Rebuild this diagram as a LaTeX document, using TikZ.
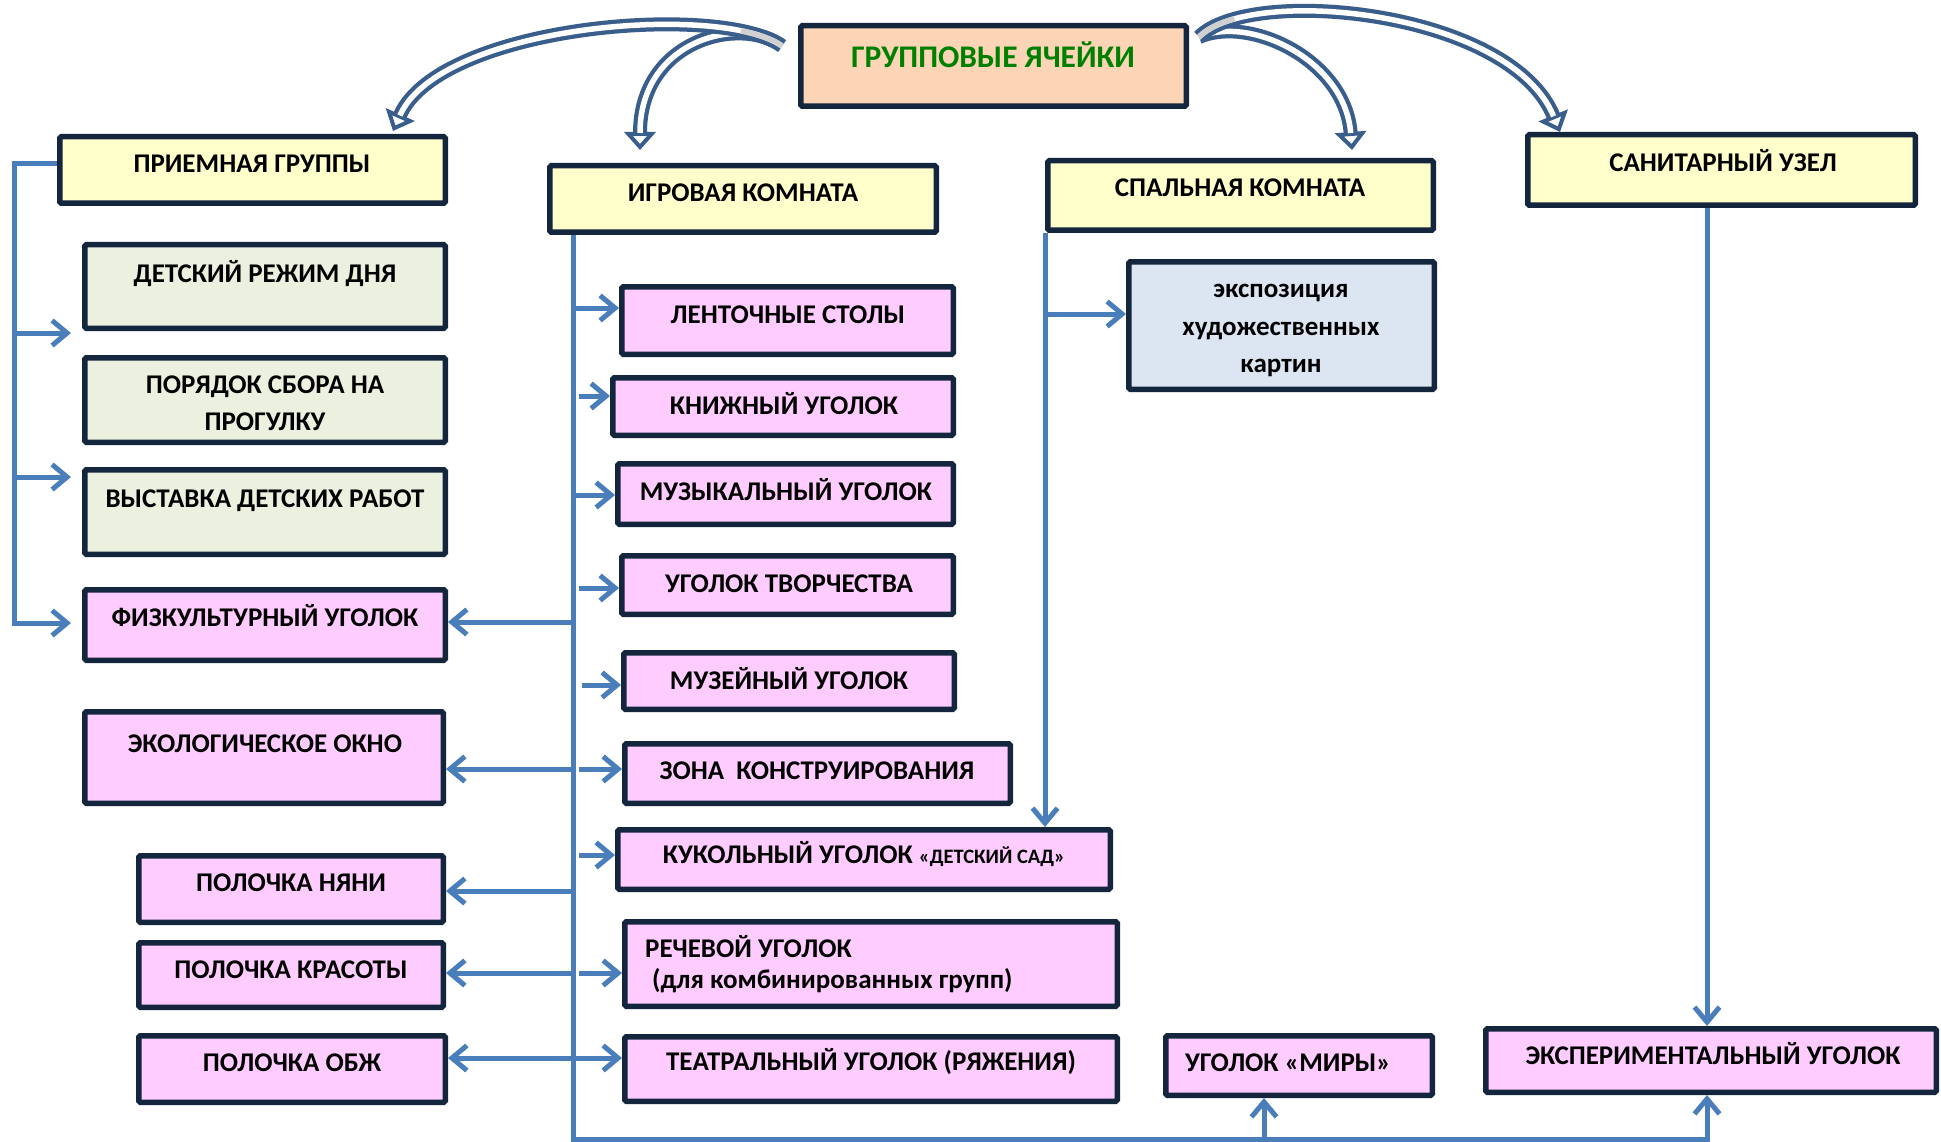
\documentclass[tikz,border=0pt]{standalone}
\usepackage{fontspec}
\setmainfont{Carlito}
\usetikzlibrary{arrows.meta,fit}
\definecolor{bordc}{HTML}{14263E}
\definecolor{yelf}{HTML}{FFFFCC}
\definecolor{grnf}{HTML}{EBF1DE}
\definecolor{pinkf}{HTML}{FFCCFF}
\definecolor{peachf}{HTML}{FBD5B5}
\definecolor{bluef}{HTML}{DCE6F2}
\definecolor{cblue}{HTML}{4A7EBB}
\definecolor{ribblue}{HTML}{3A5E8C}
\definecolor{ribgrey}{HTML}{D0D0D0}
\definecolor{titlegreen}{HTML}{008000}
\begin{document}
\begin{tikzpicture}[x=1pt, y=-1pt,
  box/.style={draw=bordc, line width=5.5pt, inner sep=-2.75pt, rounded corners=1.5pt},
  lbl/.style={font=\fontsize{27}{32}\selectfont\bfseries, anchor=base, inner sep=0pt},
  conn/.style={draw=cblue, line width=5pt},
  >={Straight Barb[length=15pt,width=25pt,line width=5pt]},
  rib/.style={draw=ribblue, line width=14pt, -{Triangle[fill=white,length=18pt,width=31pt,line width=4pt]}},
  ribin/.style={draw=white, line width=5.5pt, shorten >=17pt},
  ribfold/.style={draw=ribgrey, line width=5.5pt}
]
\fill[white] (0,0) rectangle (1941,1142);
\useasboundingbox (0,0) rectangle (1941,1142);

% ---------- boxes ----------
\node[box, fill=peachf, fit={(798,23) (1189,109)}] (grup) {};
\node[lbl, font=\fontsize{31.5}{36}\selectfont\bfseries, text=titlegreen] (grupT) at (993,68) {ГРУППОВЫЕ ЯЧЕЙКИ};

\node[box, fill=yelf, fit={(57,134) (448,206)}] (priem) {};
\node[lbl] (priemT) at (252,173) {ПРИЕМНАЯ ГРУППЫ};
\node[box, fill=yelf, fit={(547,163) (939,235)}] (igr) {};
\node[lbl] (igrT) at (743,202) {ИГРОВАЯ КОМНАТА};
\node[box, fill=yelf, fit={(1045,158) (1436,233)}] (spal) {};
\node[lbl] (spalT) at (1240,197) {СПАЛЬНАЯ КОМНАТА};
\node[box, fill=yelf, fit={(1525,132) (1918,208)}] (sanit) {};
\node[lbl] (sanitT) at (1723,172) {САНИТАРНЫЙ УЗЕЛ};

\node[box, fill=grnf, fit={(82,242) (448,331)}] (detsk) {};
\node[lbl] (detskT) at (265,282) {ДЕТСКИЙ РЕЖИМ ДНЯ};
\node[box, fill=grnf, fit={(82,355) (448,445)}] (poryad) {};
\node[lbl] (poryadT) at (265,393) {ПОРЯДОК СБОРА НА};
\node[lbl] (poryadTb) at (265,430) {ПРОГУЛКУ};
\node[box, fill=grnf, fit={(82,467) (448,557)}] (vyst) {};
\node[lbl] (vystT) at (265,507) {ВЫСТАВКА ДЕТСКИХ РАБОТ};
\node[box, fill=pinkf, fit={(82,587) (448,663)}] (fiz) {};
\node[lbl] (fizT) at (265,626) {ФИЗКУЛЬТУРНЫЙ УГОЛОК};
\node[box, fill=pinkf, fit={(82,709) (446,806)}] (ekol) {};
\node[lbl] (ekolT) at (265,752) {ЭКОЛОГИЧЕСКОЕ ОКНО};
\node[box, fill=pinkf, fit={(136,853) (446,925)}] (nyan) {};
\node[lbl] (nyanT) at (291,891) {ПОЛОЧКА НЯНИ};
\node[box, fill=pinkf, fit={(136,940) (446,1010)}] (kras) {};
\node[lbl] (krasT) at (291,978) {ПОЛОЧКА КРАСОТЫ};
\node[box, fill=pinkf, fit={(136,1033) (448,1105)}] (obzh) {};
\node[lbl] (obzhT) at (292,1071) {ПОЛОЧКА ОБЖ};

\node[box, fill=pinkf, fit={(619,284) (956,357)}] (lent) {};
\node[lbl] (lentT) at (788,323) {ЛЕНТОЧНЫЕ СТОЛЫ};
\node[box, fill=pinkf, fit={(610,375) (956,438)}] (knizh) {};
\node[lbl] (knizhT) at (784,414) {КНИЖНЫЙ УГОЛОК};
\node[box, fill=pinkf, fit={(615,461) (956,527)}] (muz) {};
\node[lbl] (muzT) at (786,500) {МУЗЫКАЛЬНЫЙ УГОЛОК};
\node[box, fill=pinkf, fit={(619,553) (956,617)}] (tvor) {};
\node[lbl] (tvorT) at (789,592) {УГОЛОК ТВОРЧЕСТВА};
\node[box, fill=pinkf, fit={(621,650) (957,712)}] (muzei) {};
\node[lbl] (muzeiT) at (789,689) {МУЗЕЙНЫЙ УГОЛОК};
\node[box, fill=pinkf, fit={(622,741) (1013,806)}] (zona) {};
\node[lbl] (zonaT) at (817,779) {ЗОНА\ \ КОНСТРУИРОВАНИЯ};
\node[box, fill=pinkf, fit={(615,827) (1113,892)}] (kukol) {};
\node[lbl] (kukolT) at (864,863) {КУКОЛЬНЫЙ УГОЛОК {\fontsize{20.5}{24}\selectfont «ДЕТСКИЙ САД»}};
\node[box, fill=pinkf, fit={(622,919) (1120,1009)}] (rech) {};
\node[lbl, anchor=base west] (rechT) at (645,957) {РЕЧЕВОЙ УГОЛОК};
\node[lbl, anchor=base west] (rechTb) at (652,988) {(для комбинированных групп)};
\node[box, fill=pinkf, fit={(622,1034) (1120,1104)}] (teatr) {};
\node[lbl] (teatrT) at (871,1070) {ТЕАТРАЛЬНЫЙ УГОЛОК (РЯЖЕНИЯ)};

\node[box, fill=bluef, fit={(1126,259) (1437,392)}] (ekspo) {};
\node[lbl] (ekspoT) at (1281,297) {экспозиция};
\node[lbl] (ekspoTb) at (1281,335) {художественных};
\node[lbl] (ekspoTc) at (1281,372) {картин};

\node[box, fill=pinkf, fit={(1163,1033) (1435,1098)}] (miry) {};
\node[lbl] (miryT) at (1288,1071) {УГОЛОК «МИРЫ»};
\node[box, fill=pinkf, fit={(1483,1026) (1939,1095)}] (exper) {};
\node[lbl] (experT) at (1713,1064) {ЭКСПЕРИМЕНТАЛЬНЫЙ УГОЛОК};

% ---------- left bracket (приемная) ----------
\coordinate (pL) at (14,164);
\coordinate (pB) at (14,623);
\coordinate (b1) at (14,333);
\coordinate (b1e) at (71,333);
\coordinate (b2) at (14,477);
\coordinate (b2e) at (71,477);
\coordinate (b3e) at (71,623);
\draw[conn,->] (priem.west |- pL) -- (pL) -- (pB) -- (b3e);
\draw[conn,->] (b1) -- (b1e);
\draw[conn,->] (b2) -- (b2e);

% ---------- игровая spine ----------
\coordinate (gT) at (573,235);
\coordinate (gS) at (573,1139);
\coordinate (gE) at (1705,1139);
\draw[conn] (gT) -- (gS) -- (gE);
\coordinate (s1) at (573,308);
\coordinate (s2) at (579,396);
\coordinate (s3) at (573,495);
\coordinate (s4) at (579,588);
\coordinate (s5) at (573,622);
\coordinate (s6) at (582,685);
\coordinate (s7) at (573,769);
\coordinate (s7b) at (579,769);
\coordinate (s8) at (579,855);
\coordinate (s9) at (573,891);
\coordinate (s10) at (573,973);
\coordinate (s10b) at (579,973);
\coordinate (s11) at (573,1058);
\draw[conn,->] (s1) -- (lent.west |- s1);
\draw[conn,->] (s2) -- (knizh.west |- s2);
\draw[conn,->] (s3) -- (muz.west |- s3);
\draw[conn,->] (s4) -- (tvor.west |- s4);
\draw[conn,->] (s5) -- (fiz.east |- s5);
\draw[conn,->] (s6) -- (muzei.west |- s6);
\draw[conn,->] (s7) -- (ekol.east |- s7);
\draw[conn,->] (s7b) -- (zona.west |- s7b);
\draw[conn,->] (s8) -- (kukol.west |- s8);
\draw[conn,->] (s9) -- (nyan.east |- s9);
\draw[conn,->] (s10) -- (kras.east |- s10);
\draw[conn,->] (s10b) -- (rech.west |- s10b);
\draw[conn,<->] (obzh.east |- s11) -- (teatr.west |- s11);

% ---------- спальная ----------
\coordinate (spT) at (1045,233);
\coordinate (sp1) at (1045,314);
\draw[conn,->] (spT) -- (spT |- kukol.north);
\draw[conn,->] (sp1) -- (ekspo.west |- sp1);

% ---------- санитарный ----------
\coordinate (snT) at (1707,208);
\draw[conn,->] (snT) -- (snT |- exper.north);
\coordinate (bE) at (1707,1142);
\draw[conn,->] (bE) -- (bE |- exper.south);
\coordinate (mB) at (1264,1139);
\draw[conn,->] (mB) -- (mB |- miry.south);

% ---------- ribbon arrows from the title ----------
\coordinate (tL) at (782,46);
\coordinate (tR) at (1199,37);
\coordinate (hA1) at (393,131);
\coordinate (hA2) at (640,150);
\coordinate (hA3) at (1352,150);
\coordinate (hA4) at (1560,132);
\draw[rib] (tL) .. controls (740,15) and (640,40) .. (hA2);
\draw[ribin] (tL) .. controls (740,15) and (640,40) .. (hA2);
\draw[rib] (tL) .. controls (720,2) and (440,25) .. (hA1);
\draw[ribin] (tL) .. controls (720,2) and (440,25) .. (hA1);
\draw[ribfold] (tL) .. controls (772.7,39.4) and (758.5,34.3) .. (740.9,30.8);
\draw[rib] (tR) .. controls (1250,15) and (1345,60) .. (hA3);
\draw[ribin] (tR) .. controls (1250,15) and (1345,60) .. (hA3);
\draw[rib] (tR) .. controls (1250,-15) and (1510,10) .. (hA4);
\draw[ribin] (tR) .. controls (1250,-15) and (1510,10) .. (hA4);
\draw[ribfold] (tR) .. controls (1206.6,29.2) and (1219,23.1) .. (1234.5,18.8);
\end{tikzpicture}
\end{document}
